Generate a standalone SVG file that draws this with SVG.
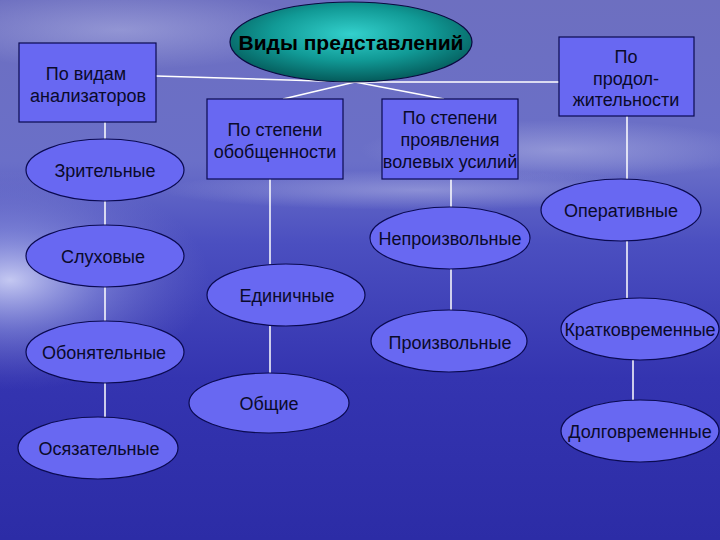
<svg xmlns="http://www.w3.org/2000/svg" width="720" height="540" viewBox="0 0 720 540">
<defs>
<linearGradient id="bg" x1="0" y1="0" x2="0" y2="1">
<stop offset="0" stop-color="#6d6fc0"/>
<stop offset="0.3" stop-color="#6a6fc8"/>
<stop offset="0.45" stop-color="#4b4fc0"/>
<stop offset="0.7" stop-color="#3434b0"/>
<stop offset="1" stop-color="#2c2ca6"/>
</linearGradient>
<radialGradient id="cloud" cx="0.5" cy="0.5" r="0.5">
<stop offset="0" stop-color="#b8bbe6" stop-opacity="0.5"/>
<stop offset="1" stop-color="#b8bbe6" stop-opacity="0"/>
</radialGradient>
<radialGradient id="glow" cx="0.5" cy="0.5" r="0.5">
<stop offset="0" stop-color="#e4e8ff" stop-opacity="0.8"/>
<stop offset="0.45" stop-color="#b0b8ee" stop-opacity="0.4"/>
<stop offset="1" stop-color="#8080d0" stop-opacity="0"/>
</radialGradient>
<radialGradient id="teal" cx="0.5" cy="0.4" r="0.6">
<stop offset="0" stop-color="#33d0cc"/>
<stop offset="0.55" stop-color="#119a96"/>
<stop offset="1" stop-color="#045a5a"/>
</radialGradient>
<style>
.n{fill:#6868f2;stroke:#0a0a50;stroke-width:1.2}
.t{font-family:"Liberation Sans",Arial,sans-serif;font-size:18px;fill:#0a0a2a;text-anchor:middle}
.c{stroke:#ffffff;stroke-width:1.5;fill:none}
</style>
</defs>
<rect width="720" height="540" fill="url(#bg)"/>
<ellipse cx="10" cy="280" rx="200" ry="110" fill="url(#glow)"/>
<ellipse cx="120" cy="30" rx="200" ry="40" fill="url(#cloud)"/>
<ellipse cx="560" cy="150" rx="200" ry="30" fill="url(#cloud)"/>
<ellipse cx="420" cy="190" rx="260" ry="20" fill="url(#cloud)"/>

<g id="connectors" class="c">
<polyline points="156,76 355,82 559,82"/>
<line x1="355" y1="82" x2="283" y2="99"/>
<line x1="355" y1="82" x2="444" y2="99"/>
<line x1="105" y1="122" x2="105" y2="139"/>
<line x1="105" y1="201" x2="105" y2="225"/>
<line x1="105" y1="287" x2="105" y2="321"/>
<line x1="105" y1="383" x2="105" y2="417"/>
<line x1="270" y1="179" x2="270" y2="264"/>
<line x1="270" y1="326" x2="270" y2="373"/>
<line x1="451" y1="179" x2="451" y2="208"/>
<line x1="451" y1="269" x2="451" y2="311"/>
<line x1="627" y1="116" x2="627" y2="179"/>
<line x1="627" y1="241" x2="627" y2="298"/>
<line x1="633" y1="360" x2="633" y2="400"/>
</g>

<g id="title">
<ellipse cx="351" cy="42" rx="121" ry="40" fill="url(#teal)" stroke="#0a0a40" stroke-width="1.2"/>
<text x="351" y="50" class="t" style="font-size:21px;font-weight:bold;fill:#000">Виды представлений</text>
</g>

<g id="box-analyzers">
<rect x="19" y="43" width="137" height="79" class="n"/>
<text x="86" y="80" class="t">По видам</text>
<text x="88" y="102" class="t">анализаторов</text>
</g>
<g id="box-generalization">
<rect x="207" y="99" width="136" height="80" class="n"/>
<text x="275" y="136" class="t">По степени</text>
<text x="275" y="158" class="t">обобщенности</text>
</g>
<g id="box-volition">
<rect x="382" y="99" width="136" height="80" class="n"/>
<text x="450" y="124" class="t">По степени</text>
<text x="450" y="146" class="t">проявления</text>
<text x="450" y="168" class="t">волевых усилий</text>
</g>
<g id="box-duration">
<rect x="559" y="37" width="135" height="79" class="n"/>
<text x="626" y="63" class="t">По</text>
<text x="626" y="85" class="t">продол-</text>
<text x="626" y="106" class="t">жительности</text>
</g>

<g id="n-visual"><ellipse cx="105" cy="170" rx="79" ry="31" class="n"/><text x="105" y="177" class="t">Зрительные</text></g>
<g id="n-auditory"><ellipse cx="105" cy="256" rx="79" ry="31" class="n"/><text x="103" y="263" class="t">Слуховые</text></g>
<g id="n-olfactory"><ellipse cx="105" cy="352" rx="79" ry="31" class="n"/><text x="104" y="359" class="t">Обонятельные</text></g>
<g id="n-tactile"><ellipse cx="98" cy="448" rx="80" ry="31" class="n"/><text x="99" y="455" class="t">Осязательные</text></g>

<g id="n-single"><ellipse cx="286" cy="295" rx="79" ry="31" class="n"/><text x="287" y="302" class="t">Единичные</text></g>
<g id="n-general"><ellipse cx="269" cy="403" rx="80" ry="30" class="n"/><text x="269" y="410" class="t">Общие</text></g>

<g id="n-involuntary"><ellipse cx="450" cy="238" rx="80" ry="31" class="n"/><text x="450" y="245" class="t">Непроизвольные</text></g>
<g id="n-voluntary"><ellipse cx="449" cy="341" rx="78" ry="31" class="n"/><text x="450" y="349" class="t">Произвольные</text></g>

<g id="n-operative"><ellipse cx="621" cy="210" rx="80" ry="31" class="n"/><text x="621" y="217" class="t">Оперативные</text></g>
<g id="n-short"><ellipse cx="640" cy="329" rx="79" ry="31" class="n"/><text x="640" y="336" class="t">Кратковременные</text></g>
<g id="n-long"><ellipse cx="640" cy="431" rx="79" ry="31" class="n"/><text x="640" y="438" class="t">Долговременные</text></g>
</svg>
